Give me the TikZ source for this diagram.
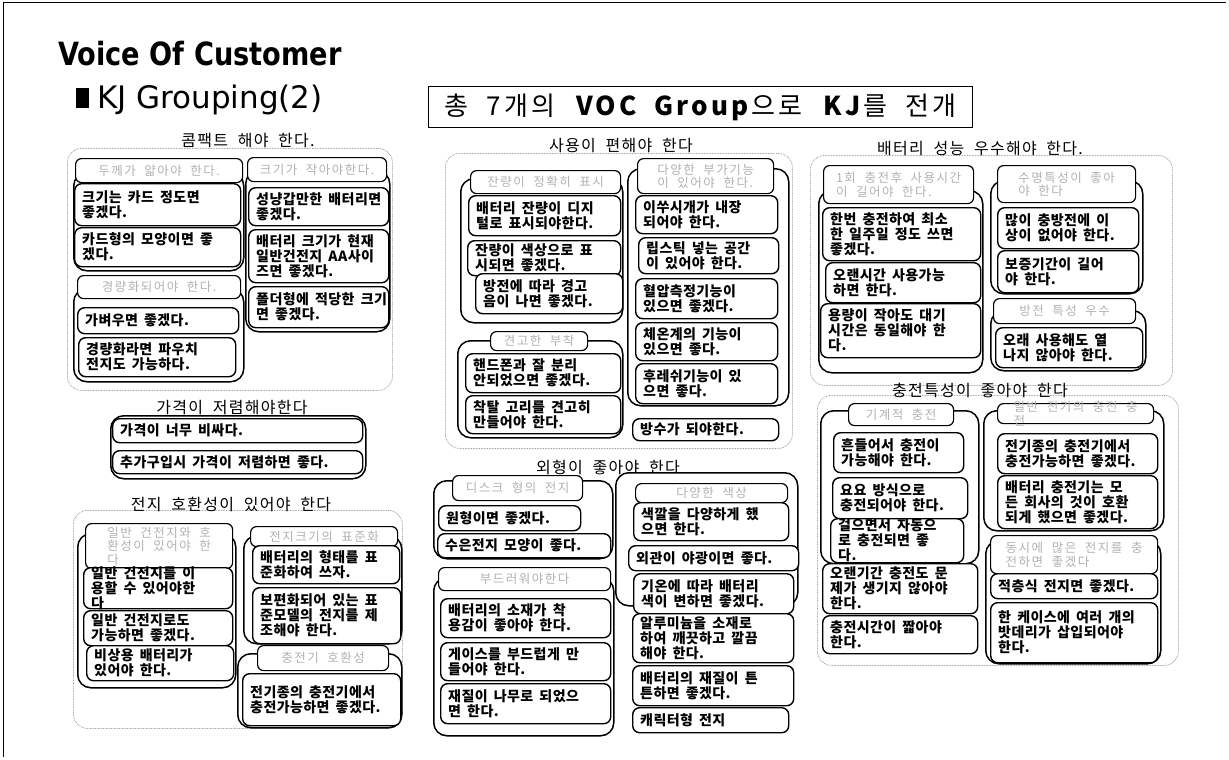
\documentclass[tikz,border=0pt]{standalone}
\usepackage{graphicx}
\usepackage{fontspec}
\newfontfamily\dv{DejaVu Sans}
\newfontfamily\kr[WordSpace=1.7,LetterSpace=3]{Noto Sans CJK KR}
\newfontfamily\krh[WordSpace=2,LetterSpace=12]{Noto Sans CJK KR}
\newfontfamily\krt[WordSpace=2,LetterSpace=8]{Noto Sans CJK KR}
\newfontfamily\krv[WordSpace=2,LetterSpace=12]{Noto Sans CJK KR}
\tikzset{
 grp/.style={draw=gray!70, line width=0.8pt, dash pattern=on 0.8pt off 0.8pt, rounded corners=14pt},
 sub/.style={draw=black, line width=1.5pt, rounded corners=13pt, fill=white},
 itm/.style={draw=black, line width=1.4pt, rounded corners=7pt, fill=white},
 hdr/.style={draw=black, line width=1.2pt, rounded corners=6pt, fill=white},
 itmtxt/.style={font=\kr\bfseries\fontsize{14}{15}\selectfont, align=left, inner sep=0pt},
 hdrtxt/.style={font=\krh\fontsize{12.5}{13.5}\selectfont, text=gray!60, align=left, inner sep=0pt},
 gtitle/.style={font=\krt\fontsize{16}{18}\selectfont, inner sep=0pt},
}
\newcommand\Bx[6]{%
 \pgfmathsetmacro\bw{#4-#2}\pgfmathsetmacro\bh{#5-#3}%
 \node[itm, minimum width=\bw pt, minimum height=\bh pt, anchor=north west, inner sep=0pt] (#1) at (#2,#3) {};%
 \node[itmtxt, anchor=west] (#1t) at ([xshift=8pt]#1.west) {#6};}
\newcommand\Hd[6]{%
 \pgfmathsetmacro\bw{#4-#2}\pgfmathsetmacro\bh{#5-#3}%
 \node[hdr, minimum width=\bw pt, minimum height=\bh pt, anchor=north west, inner sep=0pt] (#1) at (#2,#3) {};%
 \node[hdrtxt] (#1t) at (#1.center) {#6};}
\newcommand\Sb[5]{%
 \pgfmathsetmacro\bw{#4-#2}\pgfmathsetmacro\bh{#5-#3}%
 \node[sub, minimum width=\bw pt, minimum height=\bh pt, anchor=north west, inner sep=0pt] (#1) at (#2,#3) {};}
\newcommand\Gp[5]{%
 \pgfmathsetmacro\bw{#4-#2}\pgfmathsetmacro\bh{#5-#3}%
 \node[grp, minimum width=\bw pt, minimum height=\bh pt, anchor=north west, inner sep=0pt] (#1) at (#2,#3) {};}
\begin{document}
\begin{tikzpicture}[x=1pt,y=-1pt]
\fill[white] (0,0) rectangle (1229,760);
\useasboundingbox (0,0) rectangle (1229,760);
\draw[line width=1pt] (3,757) -- (3,3) -- (1226,3);
% titles
\node[anchor=base west, inner sep=0pt, font=\dv\bfseries\fontsize{32}{36}\selectfont] (title) at (58,66) {\scalebox{0.85}[1]{Voice Of Customer}};
\node[fill=black, minimum width=13pt, minimum height=20pt, inner sep=0pt, anchor=north west] (sq) at (76,88) {};
\node[anchor=base west, inner sep=0pt, font=\dv\fontsize{31}{35}\selectfont] (kj) at (97,108) {KJ Grouping(2)};
\node[draw, line width=1.3pt, minimum width=544pt, minimum height=41pt, anchor=north west, inner sep=0pt] (voc) at (428,86) {};
\node[font=\krv\fontsize{26}{28}\selectfont, inner sep=0pt] (voct) at (voc.center) {총 7개의 \textbf{VOC Group}으로 \textbf{KJ}를 전개};

% ===== Group 1
\Gp{g1}{67}{148}{392}{390}
\node[gtitle] (g1title) at (248,141) {콤팩트 해야 한다.};
\Sb{g1a}{73}{172}{243}{270}
\Sb{g1b}{73}{288}{243}{381}
\Sb{g1c}{245}{170}{389}{331}
\Hd{g1ah}{75}{158}{242}{182}{두께가 얇아야 한다.}
\Hd{g1bh}{77}{275}{240}{298}{경량화되어야 한다.}
\Hd{g1ch}{247}{157}{386}{181}{크기가 작아야한다.}
\Bx{g1a1}{74}{183}{240}{225}{크기는 카드 정도면\\좋겠다.}
\Bx{g1a2}{74}{227}{240}{266}{카드형의 모양이면 좋\\겠다.}
\Bx{g1b1}{77}{307}{238}{333}{가벼우면 좋겠다.}
\Bx{g1b2}{78}{337}{235}{376}{경량화라면 파우치\\전지도 가능하다.}
\Bx{g1c1}{248}{187}{388}{225}{성냥갑만한 배터리면\\좋겠다.}
\Bx{g1c2}{248}{229}{388}{282}{배터리 크기가 현재\\일반건전지 AA사이\\즈면 좋겠다.}
\Bx{g1c3}{248}{286}{388}{327}{폴더형에 적당한 크기\\면 좋겠다.}

% ===== Group 2
\node[gtitle] (g2title) at (232,408) {가격이 저렴해야한다};
\Sb{g2}{110}{415}{365}{478}
\Bx{g2a}{112}{418}{362}{442}{가격이 너무 비싸다.}
\Bx{g2b}{112}{450}{362}{473}{추가구입시 가격이 저렴하면 좋다.}

% ===== Group 3
\Gp{g3}{73}{510}{402}{728}
\node[gtitle] (g3title) at (231,504) {전지 호환성이 있어야 한다};
\Sb{g3a}{77}{533}{235}{687}
\Sb{g3b}{243}{535}{401}{643}
\Sb{g3c}{237}{653}{401}{727}
\Hd{g3ah}{85}{523}{232}{568}{일반 건전지와 호\\환성이 있어야 한\\다}
\Hd{g3bh}{250}{526}{397}{546}{전지크기의 표준화}
\Bx{g3a1}{83}{567}{232}{608}{일반 건전지를 이\\용할 수 있어야한\\다}
\Bx{g3a2}{83}{610}{232}{645}{일반 건전지로도\\가능하면 좋겠다.}
\Bx{g3a3}{86}{645}{233}{680}{비상용 배터리가\\있어야 한다.}
\Bx{g3b1}{252}{545}{399}{583}{배터리의 형태를 표\\준화하여 쓰자.}
\Bx{g3b2}{252}{587}{400}{643}{보편화되어 있는 표\\준모델의 전지를 제\\조해야 한다.}
\Hd{g3ch}{257}{645}{388}{670}{충전기 호환성}
\Bx{g3c1}{242}{673}{400}{725}{전기종의 충전기에서\\충전가능하면 좋겠다.}

% ===== Group 4
\Gp{g4}{445}{153}{792}{448}
\node[gtitle] (g4title) at (621,146) {사용이 편해야 한다};
\Sb{g4a}{460}{178}{622}{322}
\Sb{g4b}{457}{340}{622}{437}
\Sb{g4c}{627}{168}{788}{405}
\Hd{g4ah}{470}{170}{620}{193}{잔량이 정확히 표시}
\Hd{g4ch}{637}{158}{773}{193}{다양한 부가기능\\이 있어야 한다.}
\Bx{g4a1}{468}{195}{620}{235}{배터리 잔량이 디지\\털로 표시되야한다.}
\Bx{g4a2}{467}{240}{620}{275}{잔량이 색상으로 표\\시되면 좋겠다.}
\Bx{g4a3}{475}{273}{622}{313}{방전에 따라 경고\\음이 나면 좋겠다.}
\Hd{g4bh}{490}{331}{587}{350}{견고한 부착}
\Bx{g4b1}{465}{353}{620}{392}{핸드폰과 잘 분리\\안되었으면 좋겠다.}
\Bx{g4b2}{465}{395}{620}{433}{착탈 고리를 견고히\\만들어야 한다.}
\Bx{g4c1}{635}{195}{777}{233}{이쑤시개가 내장\\되어야 한다.}
\Bx{g4c2}{638}{237}{778}{273}{립스틱 넣는 공간\\이 있어야 한다.}
\Bx{g4c3}{635}{278}{777}{318}{혈압측정기능이\\있으면 좋겠다.}
\Bx{g4c4}{635}{322}{777}{360}{체온계의 기능이\\있으면 좋다.}
\Bx{g4c5}{635}{363}{777}{403}{후레쉬기능이 있\\으면 좋다.}
\Bx{g4d}{632}{418}{778}{440}{방수가 되야한다.}

% ===== Group 5
\node[gtitle] (g5title) at (608,467) {외형이 좋아야 한다};
\Sb{g5a}{433}{480}{612}{558}
\Sb{g5b}{433}{577}{613}{735}
\Sb{g5c}{615}{472}{797}{605}
\Hd{g5ah}{452}{475}{582}{500}{디스크 형의 전지}
\Bx{g5a1}{438}{505}{580}{530}{원형이면 좋겠다.}
\Bx{g5a2}{437}{533}{610}{557}{수은전지 모양이 좋다.}
\Hd{g5bh}{438}{567}{610}{590}{부드러워야한다}
\Bx{g5b1}{440}{598}{610}{637}{배터리의 소재가 착\\용감이 좋아야 한다.}
\Bx{g5b2}{440}{642}{610}{680}{게이스를 부드럽게 만\\들어야 한다.}
\Bx{g5b3}{440}{683}{610}{723}{재질이 나무로 되었으\\면 한다.}
\Hd{g5ch}{635}{483}{787}{502}{다양한 색상}
\Bx{g5c1}{633}{502}{788}{540}{색깔을 다양하게 했\\으면 한다.}
\Bx{g5c2}{628}{545}{798}{570}{외관이 야광이면 좋다.}
\Bx{g5c3}{633}{573}{793}{613}{기온에 따라 배터리\\색이 변하면 좋겠다.}
\Bx{g5d1}{632}{613}{793}{662}{알루미늄을 소재로\\하여 깨끗하고 깔끔\\해야 한다.}
\Bx{g5d2}{632}{665}{793}{705}{배터리의 재질이 튼\\튼하면 좋겠다.}
\Bx{g5d3}{632}{707}{788}{732}{캐릭터형 전지}

% ===== Group 6
\Gp{g6}{810}{155}{1172}{385}
\node[gtitle] (g6title) at (980,149) {배터리 성능 우수해야 한다.};
\Sb{g6a}{818}{190}{982}{372}
\Sb{g6b}{990}{180}{1142}{293}
\Sb{g6c}{990}{310}{1145}{370}
\Hd{g6ah}{823}{165}{973}{203}{1회 충전후 사용시간\\이 길어야 한다.}
\Hd{g6bh}{997}{165}{1135}{202}{수명특성이 좋아\\야 한다}
\Bx{g6a1}{822}{207}{980}{260}{한번 충전하여 최소\\한 일주일 정도 쓰면\\좋겠다.}
\Bx{g6a2}{825}{262}{980}{302}{오랜시간 사용가능\\하면 한다.}
\Bx{g6a3}{820}{303}{980}{357}{용량이 작아도 대기\\시간은 동일해야 한\\다.}
\Bx{g6b1}{997}{207}{1138}{248}{많이 충방전에 이\\상이 없어야 한다.}
\Bx{g6b2}{997}{250}{1138}{292}{보증기간이 길어\\야 한다.}
\Hd{g6ch}{993}{298}{1135}{323}{방전 특성 우수}
\Bx{g6c1}{995}{327}{1142}{367}{오래 사용해도 열\\나지 않아야 한다.}

% ===== Group 7
\Gp{g7}{817}{395}{1178}{665}
\node[gtitle] (g7title) at (980,391) {충전특성이 좋아야 한다};
\Sb{g7a}{820}{410}{978}{563}
\Sb{g7b}{983}{410}{1163}{530}
\Sb{g7c}{985}{540}{1160}{663}
\Hd{g7ah}{848}{403}{953}{425}{기계적 충전}
\Hd{g7bh}{997}{403}{1153}{423}{일반 전기의 충전 충\\전}
\Bx{g7a1}{833}{432}{963}{472}{흔들어서 충전이\\가능해야 한다.}
\Bx{g7a2}{832}{477}{967}{518}{요요 방식으로\\충전되어야 한다.}
\Bx{g7a3}{830}{518}{963}{562}{걸으면서 자동으\\로 충전되면 좋\\다.}
\Bx{g7d1}{822}{563}{977}{613}{오랜기간 충전도 문\\제가 생기지 않아야\\한다.}
\Bx{g7d2}{822}{615}{977}{653}{충전시간이 짧아야\\한다.}
\Bx{g7b1}{997}{433}{1157}{473}{전기종의 충전기에서\\충전가능하면 좋겠다.}
\Bx{g7b2}{997}{475}{1157}{528}{배터리 충전기는 모\\든 회사의 것이 호환\\되게 했으면 좋겠다.}
\Hd{g7ch}{990}{535}{1157}{573}{동시에 많은 전지를 충\\전하면 좋겠다}
\Bx{g7c1}{990}{573}{1157}{598}{적층식 전지면 좋겠다.}
\Bx{g7c2}{990}{602}{1157}{662}{한 케이스에 여러 개의\\밧데리가 삽입되어야\\한다.}
\end{tikzpicture}
\end{document}
